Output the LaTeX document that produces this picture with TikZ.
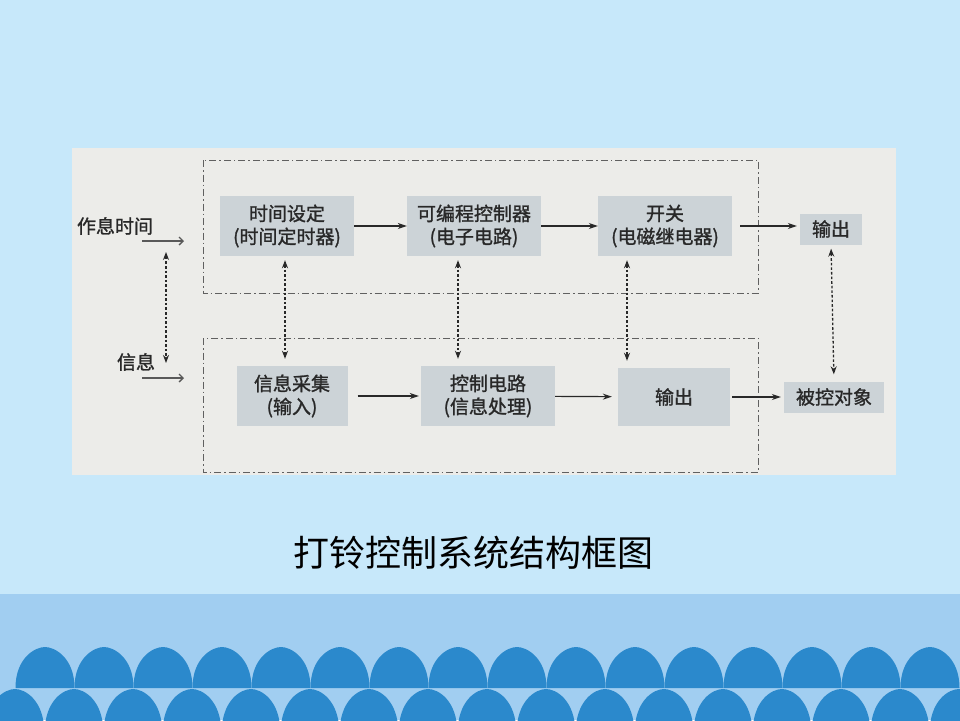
\documentclass[tikz,border=0pt]{standalone}
\usepackage{fontspec}
\newfontfamily\cjk{Noto Sans CJK SC}
\newfontfamily\cjkbox[FakeBold=1.3]{Noto Sans CJK SC}
\usepackage{xcolor}
\usepackage{tikz}
\usetikzlibrary{arrows.meta,positioning,calc}

\definecolor{skyback}{RGB}{199,232,250}
\definecolor{bandblue}{RGB}{161,206,241}
\definecolor{scallop}{RGB}{43,137,204}
\definecolor{paper}{RGB}{236,236,233}
\definecolor{boxgray}{RGB}{204,211,215}
\definecolor{inkgray}{RGB}{40,40,40}

\begin{document}
\begin{tikzpicture}[x=1pt,y=-1pt,
	block/.style={fill=boxgray, text=inkgray, align=center, inner sep=0pt, font=\cjkbox\fontsize{19}{23}\selectfont},
	lbl/.style={text=inkgray, inner sep=0pt, font=\cjkbox\fontsize{19}{23}\selectfont},
	flow/.style={draw=inkgray, line width=1.2pt, -{Stealth[length=9pt,width=6pt]}},
	feed/.style={draw=gray!70!black, line width=1.3pt, -{Straight Barb[length=4pt,width=8pt]}},
	link/.style={draw=inkgray, line width=1.3pt, dash pattern=on 2.6pt off 2pt, {Stealth[length=8pt,width=6pt]}-{Stealth[length=8pt,width=6pt]}, shorten <=4pt, shorten >=7pt},
	frame/.style={draw=gray!75!black, line width=0.9pt, dash pattern=on 7pt off 3pt on 1.5pt off 3pt}]

		\useasboundingbox (0,0) rectangle (960,720);
		\fill[skyback] (0,0) rectangle (960,720);
		\fill[bandblue] (0,594) rectangle (960,720);

		\begin{scope}
			\clip (0,0) rectangle (960,720);
			\foreach \c in {45,104,...,930}
				\fill[scallop] ({\c-29.5},688) .. controls ({\c-29.5},658) and ({\c-10},647) .. (\c,647) .. controls ({\c+10},647) and ({\c+29.5},658) .. ({\c+29.5},688) -- cycle;
			\foreach \c in {15,74,...,990}
				\fill[scallop] ({\c-29.5},734) .. controls ({\c-29.5},700) and ({\c-10},689) .. (\c,689) .. controls ({\c+10},689) and ({\c+29.5},700) .. ({\c+29.5},734) -- cycle;
		\end{scope}

		\fill[paper] (72,148) rectangle (896,475);

		\draw[frame] (203,160) rectangle (758,293);
		\draw[frame] (203,338) rectangle (758,472);

		\node[block, minimum width=134, minimum height=60] (tset) at (287,226) {时间设定\\(时间定时器)};
		\node[block, minimum width=134, minimum height=60] (prog) at (474,226) {可编程控制器\\(电子电路)};
		\node[block, minimum width=134, minimum height=60] (relay) at (665,226) {开关\\(电磁继电器)};
		\node[block, minimum width=62, minimum height=31] (outa) at (831,229) {输出};

		\node[block, minimum width=111, minimum height=60] (collect) at (292,396) {信息采集\\(输入)};
		\node[block, minimum width=134, minimum height=60] (ctrl) at (488,396) {控制电路\\(信息处理)};
		\node[block, minimum width=112, minimum height=58] (outb) at (674,397) {输出};
		\node[block, minimum width=100, minimum height=31] (target) at (834,397) {被控对象};

		\node[lbl] (rest) at (115,226) {作息时间};
		\node[lbl] (info) at (136,362) {信息};

		\coordinate (reststart) at (142,241);
		\coordinate (resttip) at (184,241);
		\coordinate (infostart) at (142,378);
		\coordinate (infotip) at (184,378);
		\coordinate (linkup) at (166,248);
		\coordinate (linkdown) at (166,370);

		\draw[feed] (reststart) -- (resttip);
		\draw[feed] (infostart) -- (infotip);
		\draw[link] (linkup) -- (linkdown);

		\draw[flow] (tset) -- (prog);
		\draw[flow] (prog) -- (relay);
		\draw[flow, shorten <=8pt, shorten >=3pt] (relay.east) -- (relay.east -| outa.west);
		\draw[flow, shorten <=10pt, shorten >=2pt] (collect) -- (ctrl);
		\draw[flow, shorten >=6pt] (ctrl) -- (outb);
		\draw[flow, shorten <=2pt, shorten >=3pt] (outb) -- (target);

		\draw[link] ($(tset.south)+(-2,0)$) -- ($(tset.south |- collect.north)+(-2,0)$);
		\draw[link] ($(prog.south)+(-16,0)$) -- ($(prog.south |- ctrl.north)+(-16,0)$);
		\draw[link] ($(relay.south)+(-38,0)$) -- ($(relay.south |- outb.north)+(-38,0)$);
		\draw[link] (outa.south) -- (target.north);

		\node[text=black, inner sep=0pt, font=\cjk\fontsize{36}{40}\selectfont] (title) at (473,553) {打铃控制系统结构框图};
	\end{tikzpicture}
\end{document}
